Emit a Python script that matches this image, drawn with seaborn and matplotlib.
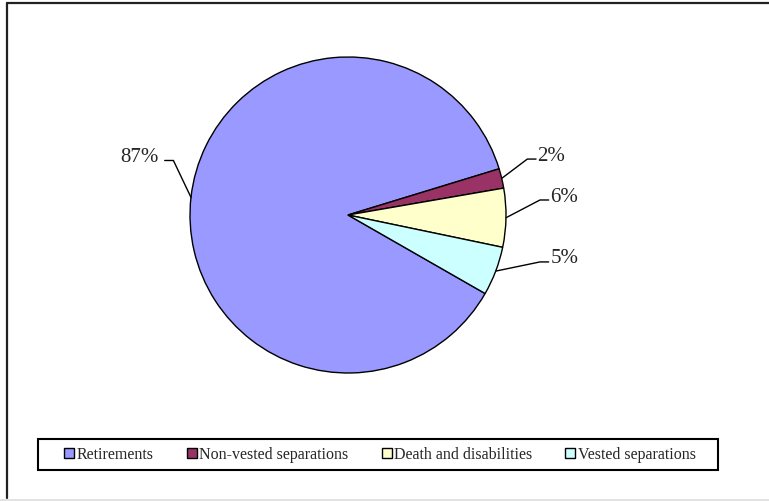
# Pie chart: share of decrements by type

import numpy as np
import matplotlib
matplotlib.use('Agg')
import matplotlib.pyplot as plt
from matplotlib.lines import Line2D
from matplotlib.patches import Rectangle
import seaborn as sns

# Data
categories = ['Retirements', 'Non-vested separations', 'Death and disabilities', 'Vested separations']
shares = [87, 2, 6, 5]
pct_labels = ['87%', '2%', '6%', '5%']
colors = ['#9999FF', '#993366', '#FFFFCC', '#CCFFFF']

sns.set_style('white')
plt.rcParams['font.family'] = ['Liberation Serif', 'DejaVu Serif']

W, H = 769, 502
fig = plt.figure(figsize=(W / 100, H / 100), dpi=100)

# pie axes: centre (348, 216) px, radius 158 px
cx, cy, r = 348, 216, 158
ax = fig.add_axes([(cx - r) / W, 1 - (cy + r) / H, 2 * r / W, 2 * r / H])
palette = sns.color_palette(colors)
wedges, _ = ax.pie(shares, colors=palette, startangle=330.2, counterclock=False,
                   radius=1, wedgeprops=dict(edgecolor='black', linewidth=1))
ax.set_xlim(-1, 1)
ax.set_ylim(-1, 1)
ax.set_aspect('equal')
ax.axis('off')

# label anchors (axes units), side of the label
label_pos = [(-1.16, 0.345, 'left'), (1.19, 0.354, 'right'),
             (1.27, 0.095, 'right'), (1.27, -0.297, 'right')]
elbow_len = 0.055
for w, txt, (lx, ly, side) in zip(wedges, pct_labels, label_pos):
    mid = np.deg2rad((w.theta1 + w.theta2) / 2)
    ex, ey = np.cos(mid), np.sin(mid)
    if side == 'left':
        kx = lx + elbow_len
        ax.plot([ex, kx, lx], [ey, ly, ly], color='black', lw=1, clip_on=False)
        ax.text(lx - 0.04, ly + 0.025, txt, ha='right', va='center', fontsize=15)
    else:
        kx = lx - elbow_len
        ax.plot([ex, kx, lx], [ey, ly, ly], color='black', lw=1, clip_on=False)
        ax.text(lx + 0.01, ly + 0.025, txt, ha='left', va='center', fontsize=15)

# legend box
fig.patches.append(Rectangle((38 / W, 1 - 471 / H), 680 / W, 31 / H, transform=fig.transFigure,
                             fill=False, edgecolor='black', linewidth=1.5))
handles = [Line2D([], [], marker='s', linestyle='none', markersize=6.5,
                  markerfacecolor=c, markeredgecolor='black', markeredgewidth=1) for c in colors]
fig.legend(handles, categories, loc='center', bbox_to_anchor=(380 / W, 1 - 455.5 / H),
           ncol=4, frameon=False, fontsize=11.5, handlelength=0.6, handletextpad=0.15,
           columnspacing=2.1)

# chart area border (cropped on the right)
fig.add_artist(Line2D([7 / W, 7 / W], [1 - 499 / H, 1 - 4 / H], color='#222222', lw=1.6,
                      transform=fig.transFigure))
fig.add_artist(Line2D([7 / W, 1], [1 - 4 / H, 1 - 4 / H], color='#222222', lw=1.6,
                      transform=fig.transFigure))
fig.add_artist(Line2D([0, 1], [1 - 501 / H, 1 - 501 / H], color='#dddddd', lw=1.2,
                      transform=fig.transFigure))

fig.savefig('out.png', dpi=100)
